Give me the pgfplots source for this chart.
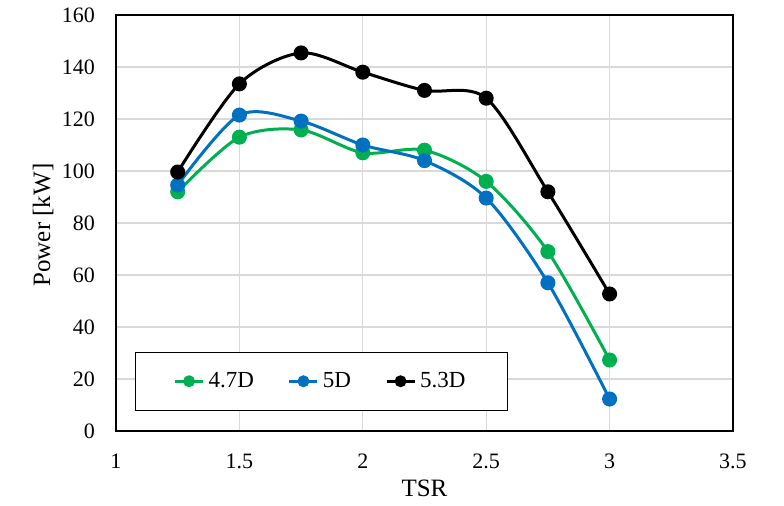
\documentclass[border=0pt]{standalone}
\usepackage{fontspec}
\setmainfont{Liberation Serif}
\usepackage{pgfplots}
\pgfplotsset{compat=1.18}
\definecolor{cgreen}{RGB}{0,176,80}
\definecolor{cblue}{RGB}{0,112,192}
\definecolor{cgrid}{RGB}{217,217,217}
\begin{document}
\begin{tikzpicture}
\begin{axis}[
  scale only axis,
  width=308.5pt, height=208pt,
  xmin=1, xmax=3.5, ymin=0, ymax=160,
  xtick distance=0.5, ytick distance=20,
  grid=major,
  grid style={color=cgrid, line width=0.6pt},
  axis line style={line width=1pt},
  major tick length=0pt,
  /pgf/number format/assume math mode=true,
  ticklabel style={font=\fontsize{11}{13}\selectfont},
  xticklabel style={yshift=-8pt},
  yticklabel style={xshift=-7pt},
  xlabel={TSR}, ylabel={Power [kW]},
  label style={font=\fontsize{12.5}{14}\selectfont},
  xlabel style={at={(axis description cs:0.5,-0.137)}, anchor=center},
  ylabel style={at={(axis description cs:-0.118,0.495)}, anchor=center, rotate=0},
  legend columns=3,
  legend style={at={(axis cs:1.077,7.7)}, anchor=south west, draw=black, line width=0.6pt,
    inner xsep=19pt, inner ysep=8pt, font=\fontsize{11.5}{13}\selectfont,
    /tikz/every odd column/.append style={column sep=0pt},
    /tikz/every even column/.append style={column sep=15pt}},
  legend image code/.code={\draw[mark repeat=2,mark phase=2,mark size=2.2pt] plot coordinates {(0pt,0pt) (7pt,0pt) (14pt,0pt)};},
  every axis plot/.append style={line width=1.5pt, smooth, tension=0.5, mark=*, mark size=3pt},
]
\addplot[cgreen, mark options={fill=cgreen}] coordinates {(1.25,92) (1.5,113) (1.75,115.8) (2.0,107) (2.25,108) (2.5,96) (2.75,69) (3.0,27.3)};
\addlegendentry{4.7D}
\addplot[cblue, mark options={fill=cblue}] coordinates {(1.25,94.6) (1.5,121.5) (1.75,119.2) (2.0,110) (2.25,104) (2.5,89.6) (2.75,57) (3.0,12.3)};
\addlegendentry{5D}
\addplot[black, mark options={fill=black}] coordinates {(1.25,99.6) (1.5,133.5) (1.75,145.4) (2.0,138) (2.25,131) (2.5,128) (2.75,92) (3.0,52.7)};
\addlegendentry{5.3D}
\end{axis}
\pgfresetboundingbox
\path (current axis.south west) ++(-58pt,-37.5pt) rectangle ++(392pt,253pt);
\end{tikzpicture}
\end{document}
